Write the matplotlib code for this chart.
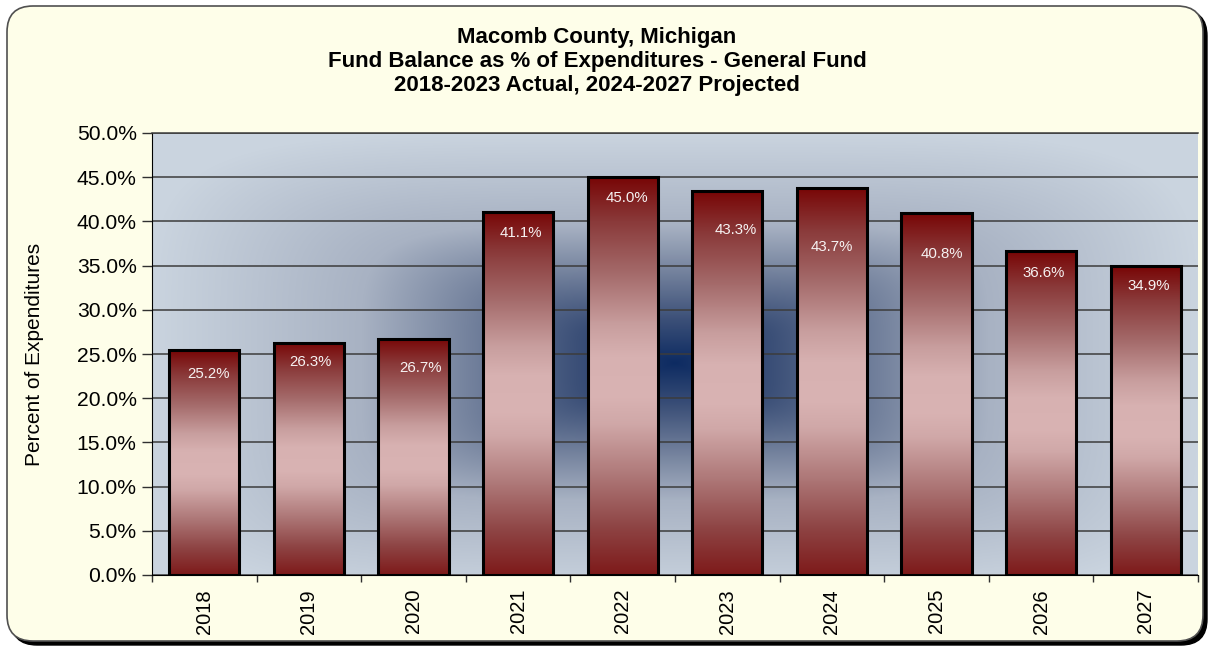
import numpy as np
import matplotlib
matplotlib.use("Agg")
import matplotlib.pyplot as plt
from matplotlib.patches import FancyBboxPatch
from matplotlib.colors import LinearSegmentedColormap, to_rgb
from matplotlib.ticker import FixedLocator, PercentFormatter

plt.rcParams['font.family'] = ['Liberation Sans', 'DejaVu Sans']

years = ['2018', '2019', '2020', '2021', '2022', '2023', '2024', '2025', '2026', '2027']
values = [25.2, 26.3, 26.7, 41.1, 45.0, 43.3, 43.7, 40.8, 36.6, 34.9]
bar_heights = [25.4, 26.3, 26.7, 41.1, 45.0, 43.4, 43.8, 40.9, 36.6, 34.9]
title_lines = ['Macomb County, Michigan',
               'Fund Balance as % of Expenditures - General Fund',
               '2018-2023 Actual, 2024-2027 Projected']
ylabel = 'Percent of Expenditures'

# label offsets below bar top (pixels) as placed in the original chart
label_dy_px = [24, 19, 29, 21, 21, 39, 59, 41, 22, 20]
label_dx_px = [4, 2, 7, 3, 4, 8, 0, 5, 3, 3]

W, H, DPI = 1215, 648, 100
fig = plt.figure(figsize=(W / DPI, H / DPI), dpi=DPI, facecolor='white')

# Rounded outer panel with drop shadow (inch coordinates)
px = 1.0 / DPI
x0, y0top, x1, y1bot = 7, 6, 1203, 641
pw, ph = (x1 - x0) * px, (y1bot - y0top) * px
pleft, pbottom = x0 * px, (H - y1bot) * px
shadow = FancyBboxPatch((pleft + 4 * px, pbottom - 4 * px), pw, ph,
                        boxstyle="round,pad=0,rounding_size=0.26",
                        transform=fig.dpi_scale_trans, facecolor='black',
                        edgecolor='black', lw=1, zorder=0)
panel = FancyBboxPatch((pleft, pbottom), pw, ph,
                       boxstyle="round,pad=0,rounding_size=0.26",
                       transform=fig.dpi_scale_trans, facecolor='#FEFEE9',
                       edgecolor='#505050', lw=1.2, zorder=1)
fig.patches.extend([shadow, panel])

# Axes placement
L, R, T, B = 152, 1198, 133, 575
ax = fig.add_axes([L / W, (H - B) / H, (R - L) / W, (B - T) / H])
ax.set_facecolor('none')
ax.set_zorder(2)

n = len(years)
xs = np.arange(n)
ax.set_xlim(-0.5, n - 0.5)
ax.set_ylim(0, 50)

# Rectangular "from center" background gradient
gh, gw = 442, 1046
gx = np.linspace(0, 1, gw)
gy = np.linspace(0, 1, gh)
GX, GY = np.meshgrid(gx, gy)
cx, cy = 0.50, 0.48
dx = np.abs(GX - cx) / 0.5
dy = np.abs(GY - cy) / 0.52
p = 5.0
r = np.clip((dx ** p + dy ** p) ** (1 / p), 0, 1)
stops_r = [0.0, 0.19, 0.4, 0.6, 1.0]
stops_c = ['#0d2b62', '#3c5078', '#75839e', '#a8b2c3', '#cad4df']
img = np.zeros((gh, gw, 3))
for k in range(3):
    img[..., k] = np.interp(r, stops_r, [to_rgb(c)[k] for c in stops_c])
ax.imshow(img, extent=[-0.5, n - 0.5, 0, 50], origin='lower', aspect='auto',
          zorder=0, interpolation='bilinear')

# Grid
ax.set_axisbelow(True)
ax.yaxis.grid(True, color='#3c3c3c', lw=1.1)
ax.xaxis.grid(False)

# Bars
bars = ax.bar(xs, bar_heights, width=0.67, facecolor='none', edgecolor='black',
              lw=2.2, zorder=4)
bar_cmap = LinearSegmentedColormap.from_list(
    'barg', [(0.0, '#7e1a1a'), (0.12, '#8e4444'), (0.25, '#ae7878'),
             (0.38, '#d0a8a8'), (0.45, '#d9b3b3'), (0.55, '#d7b1b1'),
             (0.63, '#c89e9e'), (0.76, '#a46a6a'), (0.89, '#8a3a3a'),
             (1.0, '#780606')])
grad = np.linspace(0, 1, 256).reshape(-1, 1)
for b in bars:
    bx, bw, bh = b.get_x(), b.get_width(), b.get_height()
    im = ax.imshow(grad, extent=[bx, bx + bw, 0, bh], origin='lower',
                   aspect='auto', cmap=bar_cmap, zorder=3, interpolation='bilinear')
    im.set_clip_path(b)
ax.set_xlim(-0.5, n - 0.5)
ax.set_ylim(0, 50)

# Value labels
for b, v, ddy, ddx in zip(bars, values, label_dy_px, label_dx_px):
    ax.annotate(f'{v:.1f}%', (b.get_x() + b.get_width() / 2, b.get_height()),
                xytext=(ddx * 0.72, -ddy * 0.72), textcoords='offset points',
                ha='center', va='center', color='#f6f2f2', fontsize=10.8,
                zorder=5)

# Axes styling
ax.yaxis.set_major_locator(FixedLocator(np.arange(0, 50.1, 5)))
ax.yaxis.set_major_formatter(PercentFormatter(decimals=1))
ax.set_xticks(xs)
ax.set_xticklabels(years, rotation=90)
ax.xaxis.set_minor_locator(FixedLocator(np.arange(-0.5, n, 1)))
ax.tick_params(axis='x', which='major', length=0, pad=10, labelsize=14.5)
ax.tick_params(axis='x', which='minor', length=5, width=1, color='#303030')
ax.tick_params(axis='y', which='major', length=7, width=1, labelsize=15.2,
               pad=4, color='#303030')
ax.spines['right'].set_visible(False)
ax.spines['top'].set_color('#3c3c3c')
ax.spines['top'].set_linewidth(1.1)
ax.spines['left'].set_color('black')
ax.spines['bottom'].set_color('black')

ax.set_ylabel(ylabel, fontsize=15)
ax.yaxis.set_label_coords(-0.103, 0.5)

# Title
for i, line in enumerate(title_lines):
    fig.text(597 / W, 1 - (38 + 24 * i) / H, line, ha='center', va='center',
             fontsize=16, fontweight='bold', color='black')

fig.savefig('out.png', dpi=DPI, facecolor='white')
